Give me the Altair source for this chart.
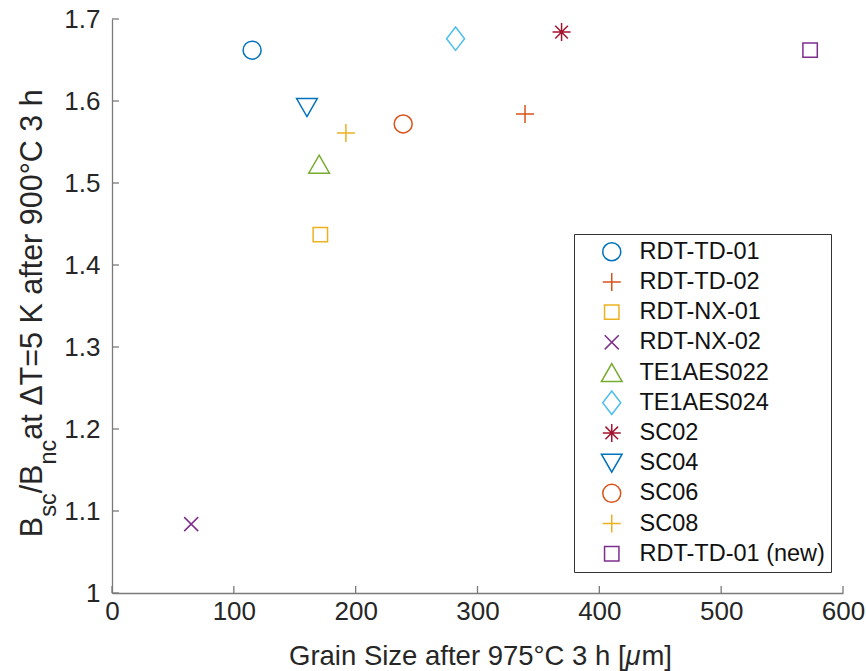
import altair as alt
import pandas as pd

# ---------------- data ----------------
names = ["RDT-TD-01", "RDT-TD-02", "RDT-NX-01", "RDT-NX-02", "TE1AES022",
         "TE1AES024", "SC02", "SC04", "SC06", "SC08", "RDT-TD-01 (new)"]
grain = [115, 339, 171, 65, 170, 282, 369, 160, 239, 192, 573]
ratio = [1.662, 1.584, 1.437, 1.084, 1.523, 1.676, 1.684, 1.592, 1.572, 1.561, 1.662]
colors = ["#0072BD", "#D95319", "#EDB120", "#7E2F8E", "#77AC30", "#4DBEEE",
          "#A2142F", "#0072BD", "#D95319", "#EDB120", "#7E2F8E"]
shapes = [
    "circle",
    "M-1,0L1,0M0,-1L0,1",
    "M-0.8,-0.8L0.8,-0.8L0.8,0.8L-0.8,0.8Z",
    "M-0.78,-0.78L0.78,0.78M-0.78,0.78L0.78,-0.78",
    "M0,-1L1.15,1L-1.15,1Z",
    "M0,-1.3L1,0L0,1.3L-1,0Z",
    "M-1,0L1,0M0,-1L0,1M-0.7,-0.7L0.7,0.7M-0.7,0.7L0.7,-0.7",
    "M0,1L1.15,-1L-1.15,-1Z",
    "circle",
    "M-1,0L1,0M0,-1L0,1",
    "M-0.8,-0.8L0.8,-0.8L0.8,0.8L-0.8,0.8Z",
]
x_ticks = [0, 100, 200, 300, 400, 500, 600]
y_ticks = [1.0, 1.1, 1.2, 1.3, 1.4, 1.5, 1.6, 1.7]

FONT = "Liberation Sans"
W, H = 731, 574
AX = "#7a7a7a"
TXT = "#262626"

df = pd.DataFrame({"name": names, "grain": grain, "ratio": ratio})

xscale = alt.Scale(domain=[0, 600], nice=False, zero=False)
yscale = alt.Scale(domain=[1.0, 1.7], nice=False, zero=False)
xaxis = alt.Axis(values=x_ticks, title=None, format="d", labelFlush=False)
yaxis = alt.Axis(values=y_ticks, title=None, format=".2~f", labelFlush=False)

legend = alt.Legend(
    title=None, orient="none", legendX=462, legendY=215,
    labelFont=FONT, labelFontSize=23.5, labelColor="#111111",
    symbolSize=324, symbolStrokeWidth=1.5, symbolType="circle",
    strokeColor="#333333", fillColor="white", padding=6,
    rowPadding=0.2, labelOffset=16, symbolOffset=20, labelLimit=400,
    gridAlign="all",
)

points = alt.Chart(df).mark_point(filled=False, strokeWidth=1.5, size=324, opacity=1).encode(
    x=alt.X("grain:Q", scale=xscale, axis=xaxis),
    y=alt.Y("ratio:Q", scale=yscale, axis=yaxis),
    color=alt.Color("name:N", scale=alt.Scale(domain=names, range=colors), legend=legend),
    shape=alt.Shape("name:N", scale=alt.Scale(domain=names, range=shapes), legend=legend),
)

xt = alt.Chart(pd.DataFrame({"v": x_ticks})).mark_rule(color=AX, strokeWidth=1.3).encode(
    x=alt.X("v:Q", scale=xscale, axis=xaxis), y=alt.value(H), y2=alt.value(H - 7))
yt = alt.Chart(pd.DataFrame({"v": y_ticks})).mark_rule(color=AX, strokeWidth=1.3).encode(
    y=alt.Y("v:Q", scale=yscale, axis=yaxis), x=alt.value(0), x2=alt.value(7))

# ---- manual axis titles (for subscripts / italic mu), Arial metrics ----
WID = {" ": 278, "B": 667, "/": 278, "a": 556, "t": 278, "Δ": 668, "T": 611, "=": 584,
       "5": 556, "K": 667, "f": 278, "e": 556, "r": 333, "9": 556, "0": 556, "°": 400,
       "C": 722, "3": 556, "h": 556, "s": 500, "c": 500, "n": 556, "G": 778, "i": 222,
       "S": 667, "z": 500, "7": 556, "[": 278, "]": 278, "μ": 576, "m": 833}


def tw(s, size):
    return sum(WID.get(ch, 556) for ch in s) / 1000.0 * size


def one(t):
    return pd.DataFrame({"t": [t]})


layers = [points, xt, yt]

# y title
MAIN, SUB = 30.5, 23.5
ypieces = [("B", MAIN, 0), ("sc", SUB, 14), ("/B", MAIN, 0), ("nc", SUB, 14),
           (" at ΔT=5 K after 900°C 3 h", MAIN, 0)]
total = sum(tw(p, s) for p, s, _ in ypieces)
pos = H / 2 + 3 + total / 2
for p, s, sh in ypieces:
    layers.append(alt.Chart(one(p)).mark_text(
        angle=270, align="left", baseline="alphabetic", font=FONT, fontSize=s, color=TXT
    ).encode(text="t:N", x=alt.value(-70 + sh), y=alt.value(pos)))
    pos -= tw(p, s)

# x title
XT = 27.5
xpieces = [("Grain Size after 975°C 3 h [", "normal"), ("μ", "italic"), ("m]", "normal")]
total = sum(tw(p, XT) for p, _ in xpieces)
pos = W / 2 - total / 2 + 3
for p, st in xpieces:
    layers.append(alt.Chart(one(p)).mark_text(
        align="left", baseline="alphabetic", font=FONT, fontSize=XT, fontStyle=st, color=TXT
    ).encode(text="t:N", x=alt.value(pos), y=alt.value(H + 72)))
    pos += tw(p, XT)

chart = alt.layer(*layers).properties(
    width=W, height=H,
    autosize=alt.AutoSizeParams(type="none"),
    padding={"left": 112, "top": 19, "right": 23, "bottom": 78},
).configure_view(stroke=None).configure_axis(
    grid=False, ticks=False, domainColor=AX, domainWidth=1.3,
    labelFont=FONT, labelFontSize=26, labelColor=TXT,
).configure_axisX(labelPadding=5).configure_axisY(labelPadding=12)

chart.save("out.html", embed_options={"renderer": "svg", "actions": False})
